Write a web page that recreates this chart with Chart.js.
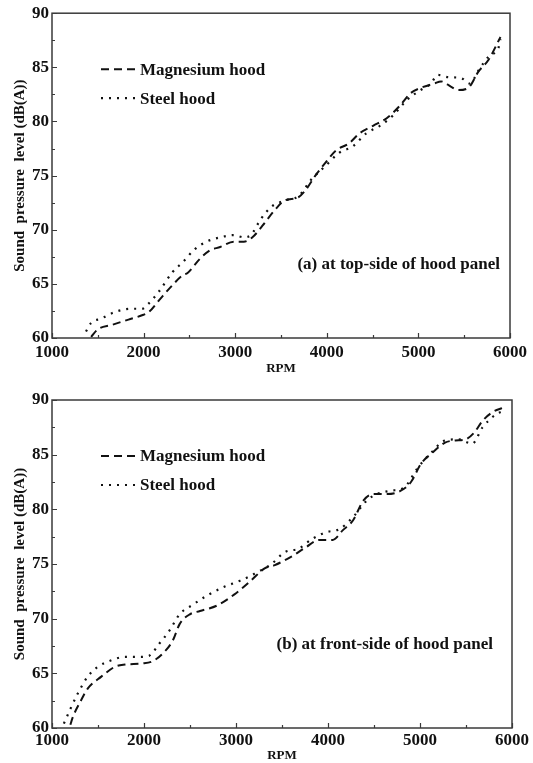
<!DOCTYPE html>
<html>
<head>
<meta charset="utf-8">
<script src="https://cdn.jsdelivr.net/npm/chart.js@4/dist/chart.umd.min.js"></script>
<style>
  html, body { margin: 0; padding: 0; background: #fff; }
  .wrap { position: relative; width: 533px; }
  #c1 { display: block; width: 533px; height: 380px; }
  #c2 { display: block; width: 533px; height: 383px; }
</style>
</head>
<body>
<div class="wrap"><canvas id="c1" width="533" height="380"></canvas></div>
<div class="wrap"><canvas id="c2" width="533" height="383"></canvas></div>
<script>
// ---------- data ----------
const seriesNames = ['Magnesium hood', 'Steel hood'];
const xTickValues = [1000, 2000, 3000, 4000, 5000, 6000];
const yTickValues = [60, 65, 70, 75, 80, 85, 90];
const xTitle = 'RPM';
const yTitle = 'Sound  pressure  level (dB(A))';
const noteA = '(a) at top-side of hood panel';
const noteB = '(b) at front-side of hood panel';

// (a) top-side
const rpmMagA = [1427, 1500, 1650, 1835, 1983, 2057, 2170, 2317, 2428, 2480, 2613, 2725, 2836, 2984, 3095, 3188, 3300, 3430, 3540, 3690, 3763, 3875, 3986, 4097, 4245, 4357, 4505, 4654, 4802, 4913, 5024, 5173, 5247, 5358, 5432, 5544, 5655, 5766, 5878, 5896];
const splMagA = [60.1, 60.8, 61.2, 61.7, 62.1, 62.4, 63.5, 64.9, 65.8, 66.0, 67.3, 68.1, 68.4, 68.9, 68.9, 69.3, 70.4, 71.8, 72.7, 73.0, 73.6, 75.0, 76.2, 77.3, 78.0, 78.9, 79.6, 80.3, 81.5, 82.6, 83.1, 83.5, 83.7, 83.2, 82.9, 83.1, 84.6, 85.7, 87.5, 87.8];
const rpmSteelA = [1371, 1427, 1538, 1686, 1872, 1983, 2057, 2168, 2317, 2428, 2558, 2688, 2836, 2984, 3095, 3170, 3281, 3392, 3540, 3690, 3837, 3986, 4134, 4283, 4431, 4579, 4728, 4876, 5024, 5136, 5210, 5321, 5469, 5562, 5655, 5766, 5878, 5896];
const splSteelA = [60.6, 61.4, 61.8, 62.4, 62.7, 62.7, 63.2, 64.3, 66.1, 67.0, 68.2, 68.9, 69.3, 69.5, 69.3, 69.5, 71.0, 72.1, 72.7, 73.1, 74.7, 75.9, 77.1, 77.7, 78.9, 79.6, 80.6, 82.0, 82.9, 83.5, 84.3, 84.1, 84.0, 83.5, 84.7, 86.0, 86.9, 87.6];

// (b) front-side
const rpmMagB = [1200, 1222, 1314, 1388, 1536, 1684, 1795, 1980, 2091, 2202, 2313, 2387, 2498, 2609, 2794, 2979, 3164, 3311, 3422, 3607, 3755, 3903, 4051, 4162, 4273, 4384, 4495, 4643, 4791, 4902, 5013, 5124, 5272, 5383, 5494, 5587, 5680, 5791, 5902];
const splMagB = [60.3, 60.9, 62.5, 63.6, 64.7, 65.6, 65.8, 65.9, 66.1, 66.8, 68.0, 69.5, 70.4, 70.7, 71.2, 72.2, 73.5, 74.6, 74.9, 75.7, 76.5, 77.2, 77.2, 78.1, 79.0, 80.8, 81.4, 81.4, 81.7, 82.5, 84.2, 85.1, 86.1, 86.3, 86.4, 87.0, 88.1, 88.9, 89.3];
const rpmSteelB = [1129, 1203, 1277, 1388, 1499, 1647, 1795, 1943, 2054, 2165, 2276, 2387, 2535, 2683, 2868, 3053, 3200, 3385, 3533, 3681, 3829, 3977, 4125, 4273, 4421, 4532, 4680, 4828, 4976, 5124, 5272, 5420, 5568, 5680, 5827, 5902];
const splSteelB = [60.4, 61.8, 63.1, 64.7, 65.6, 66.2, 66.5, 66.5, 66.6, 67.7, 68.9, 70.4, 71.3, 72.1, 72.9, 73.5, 74.1, 75.0, 76.1, 76.4, 77.3, 77.9, 78.2, 79.3, 80.8, 81.4, 81.7, 82.0, 83.8, 85.2, 86.3, 86.4, 86.0, 87.5, 88.7, 89.0];

// ---------- helpers ----------
const FONT = '"Liberation Serif", "Times New Roman", serif';
const INK = '#111';
const FRAME = '#3a3a3a';

function pts(xs, ys) { return xs.map((x, i) => ({ x: x, y: ys[i] })); }

const decoPlugin = {
  id: 'deco',
  afterDraw(chart, args, o) {
    const { ctx, chartArea: a, scales } = chart;
    const xs = scales.x, ys = scales.y;
    ctx.save();
    // frame
    ctx.strokeStyle = FRAME;
    ctx.lineWidth = 1.5;
    ctx.setLineDash([]);
    ctx.strokeRect(a.left, a.top, a.right - a.left, a.bottom - a.top);
    // inward ticks
    ctx.lineWidth = 1.2;
    ctx.beginPath();
    for (let v = xs.min; v <= xs.max + 1e-6; v += 500) {
      const px = Math.round(xs.getPixelForValue(v)) + 0.5;
      const len = (v % 1000 === 0) ? 5 : 3;
      ctx.moveTo(px, a.bottom); ctx.lineTo(px, a.bottom - len);
    }
    for (let v = ys.min; v <= ys.max + 1e-6; v += 2.5) {
      const py = Math.round(ys.getPixelForValue(v)) + 0.5;
      const len = (v % 5 === 0) ? 5 : 3;
      ctx.moveTo(a.left, py); ctx.lineTo(a.left + len, py);
    }
    ctx.stroke();
    // legend
    ctx.font = 'bold 17px ' + FONT;
    ctx.fillStyle = INK;
    ctx.textBaseline = 'middle';
    ctx.textAlign = 'left';
    chart.data.datasets.forEach((ds, i) => {
      const y = a.top + o.legendTop + i * o.legendGap;
      ctx.strokeStyle = INK;
      ctx.lineWidth = ds.borderWidth;
      ctx.setLineDash(ds.borderDash);
      ctx.beginPath();
      ctx.moveTo(o.legendX, y); ctx.lineTo(o.legendX + 37, y);
      ctx.stroke();
      ctx.fillText(ds.label, o.legendX + 39, y + 1);
    });
    // note
    ctx.setLineDash([]);
    ctx.textAlign = 'right';
    ctx.fillText(o.note, a.right - o.noteRight, a.top + o.noteTop);
    ctx.restore();
  }
};

function makeChart(id, magX, magY, stX, stY, cfg) {
  return new Chart(document.getElementById(id), {
    type: 'line',
    data: {
      datasets: [
        { label: seriesNames[0], data: pts(magX, magY), borderColor: INK, borderWidth: 2, borderDash: [8, 5], pointRadius: 0, fill: false, cubicInterpolationMode: 'monotone' },
        { label: seriesNames[1], data: pts(stX, stY), borderColor: INK, borderWidth: 2.2, borderDash: [2, 6], pointRadius: 0, fill: false, cubicInterpolationMode: 'monotone' }
      ]
    },
    options: {
      responsive: false,
      animation: false,
      devicePixelRatio: 1,
      layout: { padding: { top: cfg.padTop, right: cfg.padRight, left: 0, bottom: 0 } },
      plugins: {
        legend: { display: false },
        tooltip: { enabled: false },
        deco: { legendX: 101, legendTop: 56, legendGap: 29, note: cfg.note, noteRight: cfg.noteRight, noteTop: cfg.noteTop }
      },
      scales: {
        x: {
          type: 'linear', min: 1000, max: 6000,
          afterBuildTicks: s => { s.ticks = xTickValues.map(v => ({ value: v })); },
          afterFit: s => { s.height = cfg.xHeight; },
          grid: { display: true, drawOnChartArea: false, drawTicks: false },
          border: { display: false },
          ticks: { color: INK, padding: cfg.xPad, maxRotation: 0, autoSkip: false, callback: v => String(v), font: { family: FONT, size: 17, weight: 'bold' } },
          title: { display: true, text: xTitle, color: INK, padding: { top: 0, bottom: cfg.titlePad }, font: { family: FONT, size: 13, weight: 'bold' } }
        },
        y: {
          type: 'linear', min: 60, max: 90,
          afterBuildTicks: s => { s.ticks = yTickValues.map(v => ({ value: v })); },
          afterFit: s => { s.width = 52; },
          grid: { display: true, drawOnChartArea: false, drawTicks: false },
          border: { display: false },
          ticks: { color: INK, padding: 3, autoSkip: false, callback: v => String(v), font: { family: FONT, size: 17, weight: 'bold' } },
          title: { display: true, text: yTitle, color: INK, padding: { top: 11, bottom: 0 }, font: { family: FONT, size: 15, weight: 'bold' } }
        }
      }
    },
    plugins: [decoPlugin]
  });
}

makeChart('c1', rpmMagA, splMagA, rpmSteelA, splSteelA,
  { padTop: 13, padRight: 23, xHeight: 42, xPad: 4, titlePad: 4, note: noteA, noteRight: 10, noteTop: 251 });
makeChart('c2', rpmMagB, splMagB, rpmSteelB, splSteelB,
  { padTop: 20, padRight: 21, xHeight: 35, xPad: 2, titlePad: 0, note: noteB, noteRight: 19, noteTop: 245 });
</script>
</body>
</html>
